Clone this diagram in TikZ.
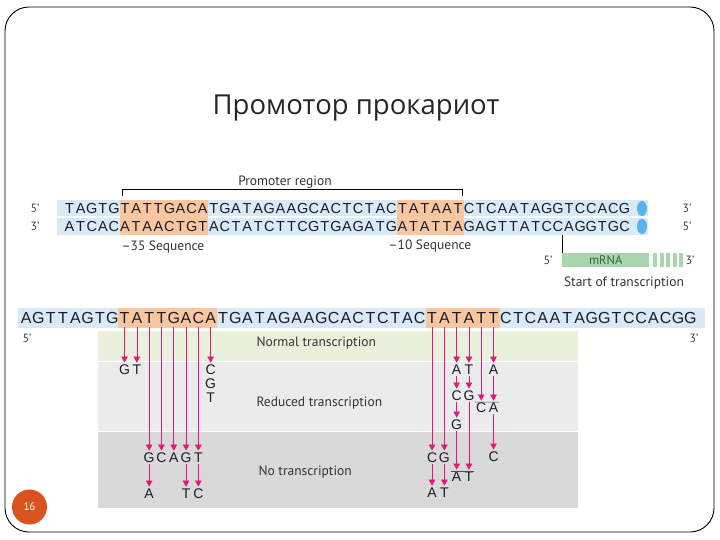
\documentclass[tikz,border=0pt]{standalone}
\usepackage{fontspec}
\setmainfont{PT Sans}
\newfontfamily\titlefont{Open Sans}
\newfontfamily\seqfont{Liberation Sans}
\usetikzlibrary{arrows.meta,positioning}
\definecolor{dnaBlue}{HTML}{D7EAF6}
\definecolor{dnaDot}{HTML}{5AB4EC}
\definecolor{boxOrange}{HTML}{F8C79F}
\definecolor{rnaGreen}{HTML}{A9D6AF}
\definecolor{rnaText}{HTML}{2E6B3A}
\definecolor{panelGreen}{HTML}{E9F1DC}
\definecolor{panelLight}{HTML}{EBEBEB}
\definecolor{panelDark}{HTML}{D9D9D9}
\definecolor{mutPink}{HTML}{E3177D}
\definecolor{pageRed}{HTML}{D9531E}
\definecolor{seqInk}{HTML}{1C1C28}
\tikzset{
  seqtop/.style={inner sep=0pt,minimum height=16pt,font=\seqfont\fontsize{14.5}{15}\selectfont,text=seqInk},
  seqlow/.style={inner sep=0pt,minimum height=18pt,font=\seqfont\fontsize{16}{17}\selectfont,text=seqInk},
  mutbase/.style={inner sep=0.8pt,font=\seqfont\fontsize{14}{15}\selectfont,text=seqInk},
  endmark/.style={font=\fontsize{12}{13}\selectfont,text=black!75},
  caption/.style={font=\fontsize{13.5}{14}\selectfont,text=black!80},
  mutarrow/.style={-{Triangle[width=6.5pt,length=6pt]},draw=mutPink,line width=0.6pt,shorten >=1.5pt},
  barline/.style={draw=black!70,line width=0.6pt}
}
\begin{document}
\begin{tikzpicture}[x=1pt,y=-1pt]
  \useasboundingbox (0,0) rectangle (720,540);
  \draw[rounded corners=24pt,line width=0.9pt] (5,7) rectangle (714,532);
  \node[font=\titlefont\fontsize{27.5}{30}\selectfont,text=black!85] (title) at (356,108) {Промотор прокариот};

  \fill[dnaBlue] (57,200) rectangle (648,216.5);
  \fill[dnaBlue] (57,218) rectangle (648,235);
  \fill[boxOrange] (119.5,200) rectangle (208.3,235);
  \fill[boxOrange] (397,200) rectangle (463.6,235);
  \fill[dnaDot] (642,208.5) ellipse (5 and 7.5);
  \fill[dnaDot] (642,226.5) ellipse (5 and 7.5);
  \foreach \c [count=\i] in {T,A,G,T,G,T,A,T,T,G,A,C,A,T,G,A,T,A,G,A,A,G,C,A,C,T,C,T,A,C,T,A,T,A,A,T,C,T,C,A,A,T,A,G,G,T,C,C,A,C,G}
    \node[seqtop] (t\i) at ({64+11.1*(\i-0.5)},208.5) {\c};
  \foreach \c [count=\i] in {A,T,C,A,C,A,T,A,A,C,T,G,T,A,C,T,A,T,C,T,T,C,G,T,G,A,G,A,T,G,A,T,A,T,T,A,G,A,G,T,T,A,T,C,C,A,G,G,T,G,C}
    \node[seqtop] (c\i) at ({64+11.1*(\i-0.5)},226.5) {\c};
  \node[endmark] (t5) at (35,208) {5'};
  \node[endmark] (c3) at (35,226) {3'};
  \node[endmark] (t3) at (687,208) {3'};
  \node[endmark] (c5) at (687,226) {5'};

  \draw[line width=0.6pt] (122,196) -- (122,189) -- (462,189) -- (462,196);
  \node[caption] (region) at (285,182) {Promoter region};
  \node[caption] (minus35) at (163,247) {–35 Sequence};
  \node[caption] (minus10) at (430,246) {–10 Sequence};

  \node[fill=rnaGreen,minimum width=87pt,minimum height=14pt,inner sep=0pt,anchor=north west,
    text=rnaText,font=\fontsize{12.5}{13}\selectfont] (mrna) at (562,253) {mRNA};
  \foreach \s in {655,661.5,668,674.5,681}
    \fill[rnaGreen] (\s-2,253) rectangle (\s+2,267);
  \draw[line width=0.6pt] (mrna.north west) -- ++(0,-18);
  \node[endmark] (r5) at (548,260) {5'};
  \node[endmark] (r3) at (690,260) {3'};
  \node[caption] (start) at (624,283) {Start of transcription};

  \fill[panelGreen] (98,331) rectangle (578,361);
  \fill[panelLight] (98,362) rectangle (578,431);
  \fill[panelDark] (98,432) rectangle (578,508);
  \node[caption,anchor=west] (normal) at (253,343) {Normal transcription};
  \node[caption,anchor=west] (reduced) at (253,403) {Reduced transcription};
  \node[caption,anchor=west] (none) at (255,472) {No transcription};

  \fill[dnaBlue] (18,308) rectangle (705,328);
  \fill[boxOrange] (118.4,308) rectangle (216.8,328);
  \fill[boxOrange] (426,308) rectangle (499.7,328);
  \foreach \c [count=\i] in {A,G,T,T,A,G,T,G,T,A,T,T,G,A,C,A,T,G,A,T,A,G,A,A,G,C,A,C,T,C,T,A,C,T,A,T,A,T,T,C,T,C,A,A,T,A,G,G,T,C,C,A,C,G,G}
    \node[seqlow] (b\i) at ({20+12.3*(\i-0.5)},318) {\c};
  \node[endmark] (b5) at (27,338) {5'};
  \node[endmark] (b3) at (694,338) {3'};

  \node[mutbase] (m9a) at (b9 |- 0,370) {G};
  \node[mutbase] (m10a) at (b10 |- 0,370) {T};
  \node[mutbase] (m16a) at (b16 |- 0,370) {C};
  \node[mutbase] (m16b) at (b16 |- 0,384) {G};
  \node[mutbase] (m16c) at (b16 |- 0,398) {T};
  \node[mutbase] (m11a) at (b11 |- 0,458) {G};
  \node[mutbase] (m12a) at (b12 |- 0,458) {C};
  \node[mutbase] (m13a) at (b13 |- 0,458) {A};
  \node[mutbase] (m14a) at (b14 |- 0,458) {G};
  \node[mutbase] (m15a) at (b15 |- 0,458) {T};
  \node[mutbase] (m11b) at (b11 |- 0,494) {A};
  \node[mutbase] (m14b) at (b14 |- 0,494) {T};
  \node[mutbase] (m15b) at (b15 |- 0,494) {C};
  \draw[mutarrow] (b9) -- (m9a);
  \draw[mutarrow] (b10) -- (m10a);
  \draw[mutarrow] (b16) -- (m16a);
  \foreach \k in {11,...,15}
    \draw[mutarrow] (b\k) -- (m\k a);
  \draw[mutarrow] (m11a) -- (m11b);
  \draw[mutarrow] (m14a) -- (m14b);
  \draw[mutarrow] (m15a) -- (m15b);

  \node[mutbase] (m34a) at (b34 |- 0,458) {C};
  \node[mutbase] (m35a) at (b35 |- 0,458) {G};
  \node[mutbase] (m34b) at (b34 |- 0,493) {A};
  \node[mutbase] (m35b) at (b35 |- 0,493) {T};
  \node[mutbase] (m36a) at (b36 |- 0,370) {A};
  \node[mutbase] (m37a) at (b37 |- 0,370) {T};
  \node[mutbase] (m36b) at (b36 |- 0,396) {C};
  \node[mutbase] (m37b) at (b37 |- 0,396) {G};
  \node[mutbase] (m36c) at (b36 |- 0,425) {G};
  \node[mutbase] (m36d) at (b36 |- 0,477) {A};
  \node[mutbase] (m37d) at (b37 |- 0,477) {T};
  \node[mutbase] (m39a) at (b39 |- 0,370) {A};
  \node[mutbase] (m38x) at (b38 |- 0,408) {C};
  \node[mutbase] (m39x) at (b39 |- 0,408) {A};
  \node[mutbase] (m39b) at (b39 |- 0,457) {C};
  \draw[barline] (m36d.north west) -- (m37d.north east);
  \draw[barline] (m38x.north west) -- (m39x.north east);
  \draw[mutarrow] (b34) -- (m34a);
  \draw[mutarrow] (b35) -- (m35a);
  \draw[mutarrow] (m34a) -- (m34b);
  \draw[mutarrow] (m35a) -- (m35b);
  \draw[mutarrow] (b36) -- (m36a);
  \draw[mutarrow] (b37) -- (m37a);
  \draw[mutarrow] (m36a) -- (m36b);
  \draw[mutarrow] (m37a) -- (m37b);
  \draw[mutarrow] (m36b) -- (m36c);
  \draw[mutarrow] (m36c) -- (m36d);
  \draw[mutarrow] (m37b) -- (m37d);
  \draw[mutarrow] (b38) -- (m38x);
  \draw[mutarrow] (b39) -- (m39a);
  \draw[mutarrow] (m39a) -- (m39x);
  \draw[mutarrow] (m39x) -- (m39b);

  \node[circle,fill=pageRed,minimum size=35pt,inner sep=0pt,text=white,
    font=\fontsize{11}{12}\selectfont] (page) at (29.5,507) {16};
\end{tikzpicture}
\end{document}
